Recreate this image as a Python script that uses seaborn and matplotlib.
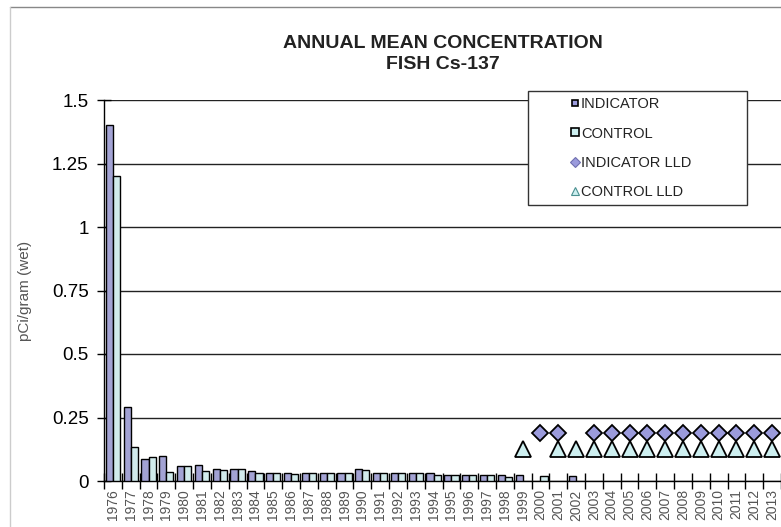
import numpy as np
import pandas as pd
import matplotlib
matplotlib.use("Agg")
import matplotlib.pyplot as plt
from matplotlib.lines import Line2D
from matplotlib.patches import Rectangle
import seaborn as sns

# data (pCi/gram wet), NaN = below LLD
years = [str(y) for y in range(1976, 2014)]
indicator = [1.40, 0.29, 0.087, 0.098, 0.06, 0.063, 0.047, 0.048, 0.04, 0.03,
             0.03, 0.03, 0.03, 0.033, 0.047, 0.03, 0.03, 0.03, 0.03, 0.025,
             0.025, 0.025, 0.025, 0.025, np.nan, np.nan, 0.02] + [np.nan] * 11
control = [1.20, 0.134, 0.094, 0.035, 0.06, 0.04, 0.043, 0.048, 0.03, 0.03,
           0.028, 0.03, 0.03, 0.03, 0.045, 0.03, 0.03, 0.03, 0.025, 0.025,
           0.025, 0.025, 0.015, np.nan, 0.02, np.nan, np.nan] + [np.nan] * 11
ind_lld_years = ["2000", "2001"] + [str(y) for y in range(2003, 2014)]
ind_lld = [0.19] * len(ind_lld_years)
ctl_lld_years = ["1999", "2001", "2002"] + [str(y) for y in range(2003, 2014)]
ctl_lld = [0.125] * len(ctl_lld_years)

c_ind = "#9b9bdc"
c_ctl = "#cdeff0"

df = pd.DataFrame({
    "year": years * 2,
    "value": indicator + control,
    "series": ["INDICATOR"] * len(years) + ["CONTROL"] * len(years),
})

sns.set_style("white")
plt.rcParams["font.family"] = ["Liberation Sans", "DejaVu Sans"]

fig = plt.figure(figsize=(7.81, 5.27), dpi=100)
ax = fig.add_axes([104 / 781, 1 - 481 / 527, 1 - 104 / 781, 381 / 527])

sns.barplot(data=df, x="year", y="value", hue="series", order=years,
            hue_order=["INDICATOR", "CONTROL"], palette=[c_ind, c_ctl],
            edgecolor="black", linewidth=1, width=0.8, ax=ax, legend=False,
            zorder=3)

xi = [years.index(y) for y in ind_lld_years]
xc = [years.index(y) for y in ctl_lld_years]
ax.plot(xc, ctl_lld, ls="none", marker="^", ms=11, mfc=c_ctl, mec="black",
        mew=1.3, zorder=4)
ax.plot(xi, ind_lld, ls="none", marker="D", ms=8.5, mfc=c_ind, mec="black",
        mew=1.3, zorder=5)

ax.set_ylim(0, 1.5)
ax.set_xlim(-0.5, 37.1)
ax.set_yticks([0, 0.25, 0.5, 0.75, 1, 1.25, 1.5])
ax.set_yticklabels(["0", "0.25", "0.5", "0.75", "1", "1.25", "1.5"],
                   fontsize=13.5)
ax.yaxis.grid(True, color="#222222", lw=1)
ax.set_axisbelow(True)
ax.tick_params(axis="y", direction="inout", length=10, width=1, pad=6,
               left=True, colors="black")
ax.set_xticks(range(len(years)))
ax.set_xticklabels(years, rotation=90, fontsize=10, color="#555555")
ax.set_xticks(np.arange(-0.5, len(years), 1), minor=True)
ax.tick_params(axis="x", which="major", length=0, pad=6)
ax.tick_params(axis="x", which="minor", direction="inout", length=11,
               width=1, bottom=True, colors="black")
for s in ["top", "right"]:
    ax.spines[s].set_visible(False)
for s in ["left", "bottom"]:
    ax.spines[s].set_color("black")
    ax.spines[s].set_linewidth(1)
ax.set_xlabel("")
ax.set_ylabel("pCi/gram (wet)", fontsize=11, color="#555555")
ax.yaxis.set_label_coords(-0.107, 0.5)

# legend box
box = Rectangle((0.626, 0.724), 0.324, 0.30, transform=ax.transAxes,
                facecolor="white", edgecolor="#333333", lw=1, clip_on=False,
                zorder=6)
ax.add_patch(box)
handles = [
    Line2D([], [], ls="none", marker="s", ms=5, mfc=c_ind, mec="black", mew=1.2),
    Line2D([], [], ls="none", marker="s", ms=6, mfc=c_ctl, mec="black", mew=1.2),
    Line2D([], [], ls="none", marker="D", ms=5, mfc=c_ind, mec="#7070b0", mew=0.8),
    Line2D([], [], ls="none", marker="^", ms=6, mfc=c_ctl, mec="#4a9090", mew=0.8),
]
labels = ["INDICATOR", "CONTROL", "INDICATOR LLD", "CONTROL LLD"]
leg = ax.legend(handles, labels, loc="upper left",
                bbox_to_anchor=(0.685, 1.015), frameon=False, fontsize=10.5,
                handlelength=0.6, handletextpad=0.1, labelspacing=1.05,
                borderaxespad=0, borderpad=0.2)
leg.set_zorder(7)
for t in leg.get_texts():
    t.set_color("#222222")

fig.text(0.567, 0.917, "ANNUAL MEAN CONCENTRATION", ha="center", va="center",
         fontsize=14, fontweight="bold", color="#222222")
fig.text(0.567, 0.877, "FISH Cs-137", ha="center", va="center",
         fontsize=14, fontweight="bold", color="#222222")

# chart-area border (top and left edges only visible)
fig.add_artist(Line2D([10 / 781, 1], [1 - 7 / 527] * 2,
                      transform=fig.transFigure, color="#888888", lw=1))
fig.add_artist(Line2D([10 / 781] * 2, [1 - 7 / 527, 0],
                      transform=fig.transFigure, color="#cccccc", lw=1))

fig.savefig("out.png", dpi=100)
